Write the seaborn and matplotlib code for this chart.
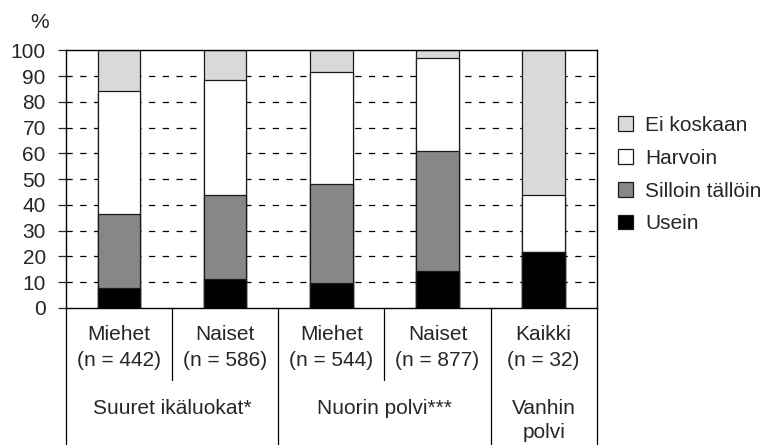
import numpy as np
import pandas as pd
import seaborn as sns
import matplotlib.pyplot as plt
from matplotlib.patches import Patch

# Data (percent, bottom to top)
categories = ['Miehet\n(n = 442)', 'Naiset\n(n = 586)', 'Miehet\n(n = 544)', 'Naiset\n(n = 877)', 'Kaikki\n(n = 32)']
usein = [7.8, 11.3, 9.5, 14.4, 21.9]
silloin_tallloin = [28.6, 32.5, 38.5, 46.6, 0.0]
harvoin = [47.9, 44.7, 43.7, 36.1, 21.9]
ei_koskaan = [15.7, 11.5, 8.3, 2.9, 56.2]

series_names = ['Usein', 'Silloin tällöin', 'Harvoin', 'Ei koskaan']
series_colors = ['#000000', '#878787', '#ffffff', '#d9d9db']
group_labels = ['Suuret ikäluokat*', 'Nuorin polvi***', 'Vanhin\npolvi']
group_centers = [0.5, 2.5, 4.0]

sns.set_style('white')
plt.rcParams['font.family'] = ['Liberation Sans', 'DejaVu Sans']

df = pd.DataFrame({'cat': categories, 'Usein': usein, 'Silloin tällöin': silloin_tallloin,
                   'Harvoin': harvoin, 'Ei koskaan': ei_koskaan})
cum = df[series_names].cumsum(axis=1)

fig = plt.figure(figsize=(7.67, 4.45), dpi=100)
ax = fig.add_axes([0.086, 0.308, 0.692, 0.5787])

# grid behind bars
for v in range(10, 100, 10):
    ax.axhline(v, color='black', lw=0.9, ls=(0, (5, 6)), zorder=0)

# stacked bars: draw the tallest cumulative layer first, overlay the lower ones
for name, color in reversed(list(zip(series_names, series_colors))):
    sns.barplot(x=df['cat'], y=cum[name], color=color, edgecolor='#1a1a1a', linewidth=0.9,
                width=0.4, saturation=1, ax=ax, zorder=2)

ax.set_ylim(0, 100)
ax.set_xlim(-0.5, 4.5)
ax.set_yticks(range(0, 101, 10))
ax.tick_params(axis='y', labelsize=15, length=5.5, width=0.9, direction='out', left=True, pad=9)
ax.set_xticks([])
ax.set_xlabel('')
ax.set_ylabel('')
for s in ax.spines.values():
    s.set_color('black')
    s.set_linewidth(1.0)

ax.text(-0.049, 1.11, '%', transform=ax.transAxes, fontsize=15, ha='center', va='center')

# category table below the axis
tr = ax.get_xaxis_transform()
for xb in [-0.5, 1.5, 3.5, 4.5]:
    ax.plot([xb, xb], [0, -0.535], color='black', lw=0.9, transform=tr, clip_on=False)
for xb in [0.5, 2.5]:
    ax.plot([xb, xb], [0, -0.28], color='black', lw=0.9, transform=tr, clip_on=False)
for i, c in enumerate(categories):
    ax.text(i, -0.153, c, transform=tr, ha='center', va='center', fontsize=15, linespacing=1.5)
for xg, g in zip(group_centers, group_labels):
    ax.text(xg, -0.352, g, transform=tr, ha='center', va='top', fontsize=15, linespacing=1.35)

handles = [Patch(facecolor=c, edgecolor='#1a1a1a', linewidth=0.9, label=n)
           for n, c in zip(series_names, series_colors)][::-1]
ax.legend(handles=handles, loc='upper left', bbox_to_anchor=(1.04, 0.745), frameon=False,
          fontsize=15, handlelength=0.72, handleheight=0.72, handletextpad=0.6,
          labelspacing=0.66, borderpad=0, borderaxespad=0)

fig.savefig('out.png', dpi=100)
